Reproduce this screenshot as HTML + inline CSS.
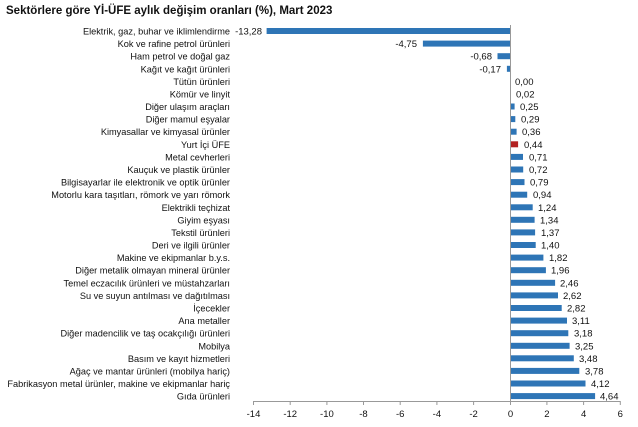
<!DOCTYPE html>
<html><head><meta charset="utf-8"><style>
html,body{margin:0;padding:0;background:#fff;}
svg{display:block;font-family:"Liberation Sans",sans-serif;}
.l{font-size:9.2px;fill:#111;text-anchor:end;}
.v{font-size:9.5px;fill:#111;}
.t{font-size:9.5px;fill:#111;text-anchor:middle;}
</style></head><body>
<svg width="638" height="427" viewBox="0 0 638 427">
<text x="6" y="14" style="font-size:11.5px;font-weight:bold;fill:#111">Sektörlere göre Yİ-ÜFE aylık değişim oranları (%), Mart 2023</text>
<g fill="#2e75b6">
<rect x="266.6" y="28" width="243.4" height="6"/>
<rect x="422.9" y="40.6" width="87.1" height="6"/>
<rect x="497.5" y="53.2" width="12.5" height="6"/>
<rect x="506.9" y="65.8" width="3.1" height="6"/>
<rect x="510" y="90.9" width="0.6" height="6"/>
<rect x="510" y="103.5" width="4.6" height="6"/>
<rect x="510" y="116.1" width="5.3" height="6"/>
<rect x="510" y="128.7" width="6.6" height="6"/>
<rect x="510" y="141.3" width="8.1" height="6" fill="#b22222"/>
<rect x="510" y="153.9" width="13" height="6"/>
<rect x="510" y="166.5" width="13.2" height="6"/>
<rect x="510" y="179.1" width="14.5" height="6"/>
<rect x="510" y="191.7" width="17.2" height="6"/>
<rect x="510" y="204.3" width="22.7" height="6"/>
<rect x="510" y="216.8" width="24.6" height="6"/>
<rect x="510" y="229.4" width="25.1" height="6"/>
<rect x="510" y="242" width="25.7" height="6"/>
<rect x="510" y="254.6" width="33.4" height="6"/>
<rect x="510" y="267.2" width="35.9" height="6"/>
<rect x="510" y="279.8" width="45.1" height="6"/>
<rect x="510" y="292.4" width="48" height="6"/>
<rect x="510" y="305" width="51.7" height="6"/>
<rect x="510" y="317.6" width="57" height="6"/>
<rect x="510" y="330.2" width="58.3" height="6"/>
<rect x="510" y="342.8" width="59.6" height="6"/>
<rect x="510" y="355.3" width="63.8" height="6"/>
<rect x="510" y="367.9" width="69.3" height="6"/>
<rect x="510" y="380.5" width="75.5" height="6"/>
<rect x="510" y="393.1" width="85.1" height="6"/>
</g>
<g class="l">
<text x="230" y="34.5">Elektrik, gaz, buhar ve iklimlendirme</text>
<text x="230" y="47.1">Kok ve rafine petrol ürünleri</text>
<text x="230" y="59.7">Ham petrol ve doğal gaz</text>
<text x="230" y="72.3">Kağıt ve kağıt ürünleri</text>
<text x="230" y="84.9">Tütün ürünleri</text>
<text x="230" y="97.4">Kömür ve linyit</text>
<text x="230" y="110">Diğer ulaşım araçları</text>
<text x="230" y="122.6">Diğer mamul eşyalar</text>
<text x="230" y="135.2">Kimyasallar ve kimyasal ürünler</text>
<text x="230" y="147.8">Yurt İçi ÜFE</text>
<text x="230" y="160.4">Metal cevherleri</text>
<text x="230" y="173">Kauçuk ve plastik ürünler</text>
<text x="230" y="185.6">Bilgisayarlar ile elektronik ve optik ürünler</text>
<text x="230" y="198.2">Motorlu kara taşıtları, römork ve yarı römork</text>
<text x="230" y="210.8">Elektrikli teçhizat</text>
<text x="230" y="223.3">Giyim eşyası</text>
<text x="230" y="235.9">Tekstil ürünleri</text>
<text x="230" y="248.5">Deri ve ilgili ürünler</text>
<text x="230" y="261.1">Makine ve ekipmanlar b.y.s.</text>
<text x="230" y="273.7">Diğer metalik olmayan mineral ürünler</text>
<text x="230" y="286.3">Temel eczacılık ürünleri ve müstahzarları</text>
<text x="230" y="298.9">Su ve suyun antılması ve dağıtılması</text>
<text x="230" y="311.5">İçecekler</text>
<text x="230" y="324.1">Ana metaller</text>
<text x="230" y="336.7">Diğer madencilik ve taş ocakçılığı ürünleri</text>
<text x="230" y="349.3">Mobilya</text>
<text x="230" y="361.8">Basım ve kayıt hizmetleri</text>
<text x="230" y="374.4">Ağaç ve mantar ürünleri (mobilya hariç)</text>
<text x="230" y="387">Fabrikasyon metal ürünler, makine ve ekipmanlar hariç</text>
<text x="230" y="399.6">Gıda ürünleri</text>
</g>
<g class="v">
<text x="262" y="34.5" text-anchor="end">-13,28</text>
<text x="417" y="47.1" text-anchor="end">-4,75</text>
<text x="492" y="59.7" text-anchor="end">-0,68</text>
<text x="501" y="72.3" text-anchor="end">-0,17</text>
<text x="515" y="84.9">0,00</text>
<text x="516" y="97.4">0,02</text>
<text x="520" y="110">0,25</text>
<text x="521" y="122.6">0,29</text>
<text x="522" y="135.2">0,36</text>
<text x="524" y="147.8">0,44</text>
<text x="529" y="160.4">0,71</text>
<text x="529" y="173">0,72</text>
<text x="530" y="185.6">0,79</text>
<text x="533" y="198.2">0,94</text>
<text x="538" y="210.8">1,24</text>
<text x="540" y="223.3">1,34</text>
<text x="541" y="235.9">1,37</text>
<text x="541" y="248.5">1,40</text>
<text x="549" y="261.1">1,82</text>
<text x="551" y="273.7">1,96</text>
<text x="560" y="286.3">2,46</text>
<text x="563" y="298.9">2,62</text>
<text x="567" y="311.5">2,82</text>
<text x="572" y="324.1">3,11</text>
<text x="574" y="336.7">3,18</text>
<text x="575" y="349.3">3,25</text>
<text x="579" y="361.8">3,48</text>
<text x="585" y="374.4">3,78</text>
<text x="591" y="387">4,12</text>
<text x="600" y="399.6">4,64</text>
</g>
<g stroke="#999" stroke-width="1">
<line x1="510.5" y1="25" x2="510.5" y2="402"/>
<line x1="253" y1="401.5" x2="620.5" y2="401.5"/>
<line x1="253.5" y1="401" x2="253.5" y2="405"/>
<line x1="290.2" y1="401" x2="290.2" y2="405"/>
<line x1="326.9" y1="401" x2="326.9" y2="405"/>
<line x1="363.5" y1="401" x2="363.5" y2="405"/>
<line x1="400.2" y1="401" x2="400.2" y2="405"/>
<line x1="436.9" y1="401" x2="436.9" y2="405"/>
<line x1="473.6" y1="401" x2="473.6" y2="405"/>
<line x1="510.5" y1="401" x2="510.5" y2="405"/>
<line x1="546.9" y1="401" x2="546.9" y2="405"/>
<line x1="583.6" y1="401" x2="583.6" y2="405"/>
<line x1="620.3" y1="401" x2="620.3" y2="405"/>
</g>
<g class="t">
<text x="253.5" y="417">-14</text>
<text x="290.2" y="417">-12</text>
<text x="326.9" y="417">-10</text>
<text x="363.5" y="417">-8</text>
<text x="400.2" y="417">-6</text>
<text x="436.9" y="417">-4</text>
<text x="473.6" y="417">-2</text>
<text x="510.5" y="417">0</text>
<text x="546.9" y="417">2</text>
<text x="583.6" y="417">4</text>
<text x="620.3" y="417">6</text>
</g>
</svg>
</body></html>
